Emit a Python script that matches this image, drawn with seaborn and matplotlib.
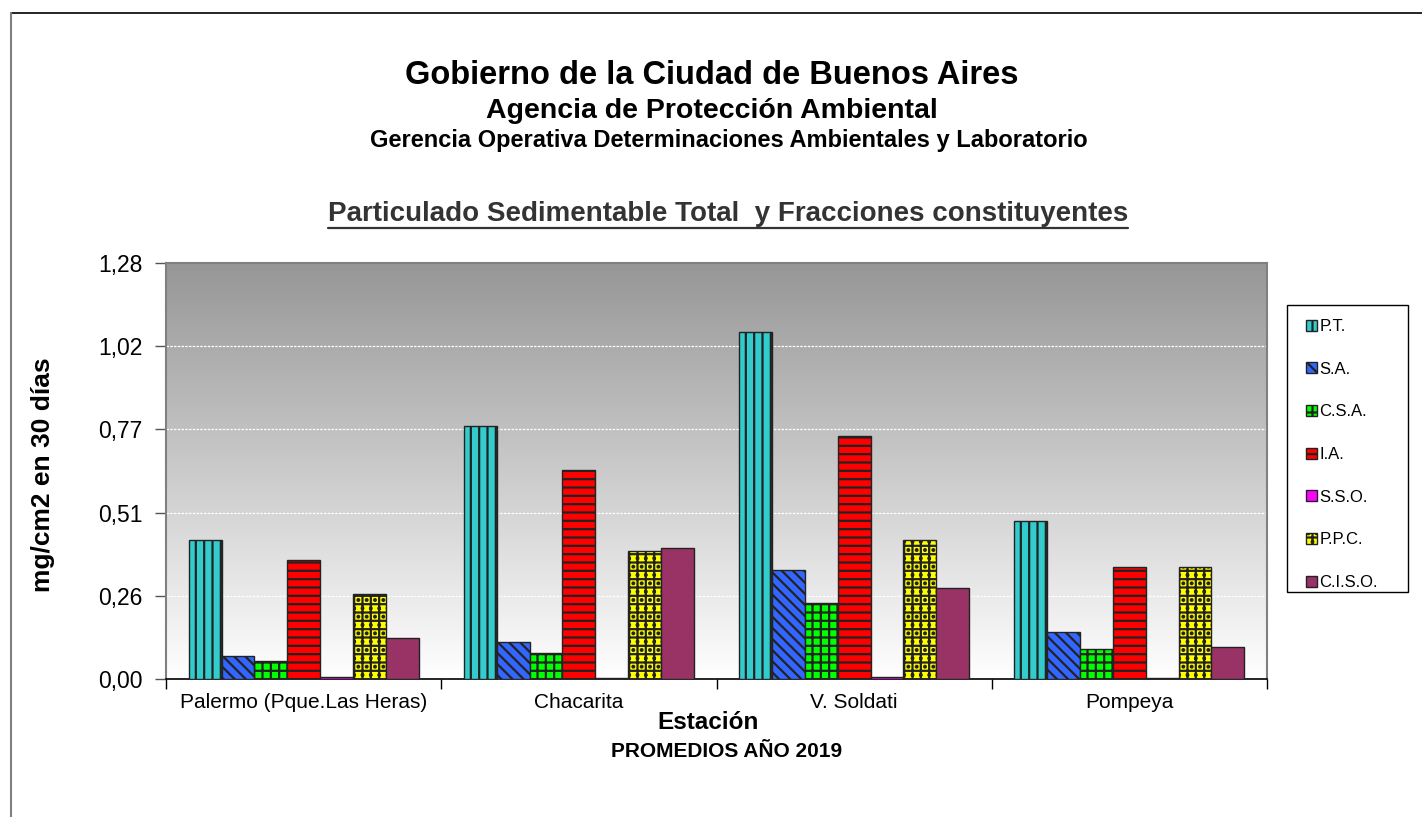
"""Particulado sedimentable total y fracciones, promedios 2019."""

import matplotlib

matplotlib.use("Agg")
import matplotlib.pyplot as plt
import numpy as np
import pandas as pd
import seaborn as sns

STATIONS = ["Palermo (Pque.Las Heras)", "Chacarita", "V. Soldati", "Pompeya"]
FRACTIONS = ["P.T.", "S.A.", "C.S.A.", "I.A.", "S.S.O.", "P.P.C.", "C.I.S.O."]

PT = [0.429, 0.778, 1.069, 0.485]
SA = [0.071, 0.113, 0.334, 0.146]
CSA = [0.056, 0.081, 0.233, 0.093]
IA = [0.365, 0.644, 0.747, 0.345]
SSO = [0.007, 0.004, 0.007, 0.004]
PPC = [0.263, 0.393, 0.429, 0.345]
CISO = [0.127, 0.402, 0.279, 0.099]

Y_TICKS = [0.0, 0.256, 0.512, 0.768, 1.024, 1.28]

COLORS = ["#33CCCC", "#3366FF", "#00FF00", "#FF0000", "#FF00FF", "#FFFF00", "#993366"]
HATCHES = ["||", "\\\\\\", "++", "--", "", "++..", ""]

values = [PT, SA, CSA, IA, SSO, PPC, CISO]
data = pd.DataFrame(
    [
        {"station": station, "fraction": fraction, "value": vals[i]}
        for fraction, vals in zip(FRACTIONS, values)
        for i, station in enumerate(STATIONS)
    ]
)

sns.set_theme(style="white")
plt.rcParams["font.family"] = ["Liberation Sans", "DejaVu Sans"]
plt.rcParams["text.color"] = "black"
plt.rcParams["axes.labelcolor"] = "black"
plt.rcParams["xtick.color"] = "black"
plt.rcParams["ytick.color"] = "black"
plt.rcParams["hatch.linewidth"] = 1.6
plt.rcParams["hatch.color"] = "black"

W, H = 1422, 817
fig = plt.figure(figsize=(W / 100, H / 100), dpi=100)
ax = fig.add_axes([166 / W, 1 - 679 / H, 1101 / W, 416 / H])

# gradient background: grey at top fading to white at bottom
grad = np.linspace(1.0, 0.59, 256).reshape(-1, 1)
ax.imshow(
    np.dstack([grad, grad, grad]),
    extent=[0, 1, 0, 1],
    transform=ax.transAxes,
    aspect="auto",
    origin="lower",
    zorder=0,
)

sns.barplot(
    data=data,
    x="station",
    y="value",
    hue="fraction",
    order=STATIONS,
    hue_order=FRACTIONS,
    palette=COLORS,
    width=0.835,
    saturation=1,
    edgecolor="black",
    linewidth=1,
    legend=False,
    ax=ax,
    zorder=3,
)

for container, hatch in zip(ax.containers, HATCHES):
    for bar in container.patches:
        bar.set_hatch(hatch)
        bar.set_edgecolor("#222222")

ax.set_xlim(-0.5, 3.5)
ax.set_ylim(0, 1.28)
ax.set_yticks(Y_TICKS)
ax.set_yticklabels([f"{t:.2f}".replace(".", ",") for t in Y_TICKS], fontsize=16.5)
for t in Y_TICKS[1:-1]:
    ax.axhline(t, color="white", lw=0.9, ls=(0, (2, 1)), zorder=1)

ax.tick_params(axis="x", length=0, labelsize=15, pad=10)
ax.set_xticks([-0.5, 0.5, 1.5, 2.5, 3.5], minor=True)
ax.tick_params(axis="x", which="minor", length=7, width=1, color="black", direction="out", bottom=True)
ax.tick_params(axis="y", length=8, width=1, color="#555555", direction="out", left=True, pad=9)

for side in ["top", "right", "left"]:
    ax.spines[side].set_color("#808080")
    ax.spines[side].set_linewidth(1.5)
ax.spines["bottom"].set_color("black")
ax.spines["bottom"].set_linewidth(1.2)

ax.set_xlabel("Estación", fontsize=17.5, fontweight="bold")
ax.xaxis.set_label_coords(0.492, -0.078)
ax.set_ylabel("mg/cm2 en 30 días", fontsize=19, fontweight="bold")
ax.yaxis.set_label_coords(-0.101, 0.49)
fig.text(727 / W, 1 - 757 / H, "PROMEDIOS AÑO 2019", ha="center", va="baseline", fontsize=15, fontweight="bold")

fig.text(712 / W, 1 - 84 / H, "Gobierno de la Ciudad de Buenos Aires", ha="center", va="baseline", fontsize=23.5, fontweight="bold")
fig.text(712 / W, 1 - 118 / H, "Agencia de Protección Ambiental", ha="center", va="baseline", fontsize=20.5, fontweight="bold")
fig.text(729 / W, 1 - 147 / H, "Gerencia Operativa Determinaciones Ambientales y Laboratorio", ha="center", va="baseline", fontsize=17, fontweight="bold")
title = fig.text(728 / W, 1 - 221 / H, "Particulado Sedimentable Total  y Fracciones constituyentes", ha="center", va="baseline", fontsize=20, fontweight="bold", color="#333333")
fig.canvas.draw()
bb = title.get_window_extent().transformed(fig.transFigure.inverted())
fig.add_artist(plt.Line2D([bb.x0, bb.x1], [bb.y0 - 0.001, bb.y0 - 0.001], color="#333333", lw=1.6))

leg = fig.legend(
    handles=[c.patches[0] for c in ax.containers],
    labels=FRACTIONS,
    loc="upper left",
    bbox_to_anchor=(1306 / W, 1 - 319 / H),
    frameon=False,
    fontsize=12,
    handlelength=0.65,
    handleheight=0.65,
    handletextpad=0.15,
    labelspacing=1.66,
    borderpad=0,
    borderaxespad=0,
)
fig.add_artist(
    plt.Rectangle((1287 / W, 1 - 592 / H), 121 / W, 287 / H, transform=fig.transFigure,
                  fill=False, edgecolor="black", lw=1)
)

# outer chart border (top and left edges visible)
fig.add_artist(plt.Line2D([11 / W, 1], [1 - 13 / H, 1 - 13 / H], color="black", lw=1.2))
fig.add_artist(plt.Line2D([11 / W, 11 / W], [0, 1 - 13 / H], color="#808080", lw=1.5))

fig.savefig("out.png", dpi=100)
plt.close(fig)
